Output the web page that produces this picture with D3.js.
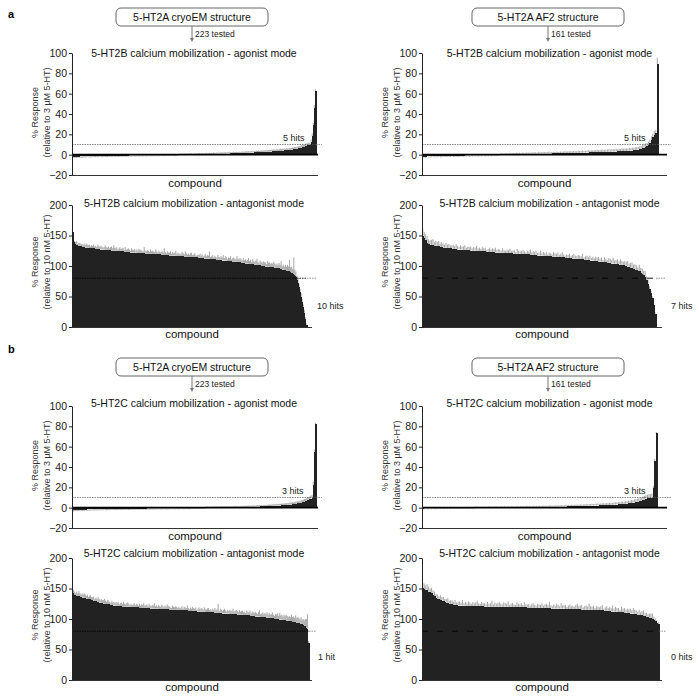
<!DOCTYPE html>
<html><head><meta charset="utf-8">
<script src="https://cdn.jsdelivr.net/npm/d3@7"></script>
<style>body{margin:0;background:#fff}svg{display:block}text{font-family:"Liberation Sans",Arial,sans-serif}</style>
</head><body><svg id="c" width="699" height="700"></svg>
<script>
// ---------- DATA ----------
const sectionLabels = ["a", "b"];
const structureNames = ["5-HT2A cryoEM structure", "5-HT2A AF2 structure"];
const testedLabels = ["223 tested", "161 tested"];
const chartTitles = ["5-HT2B calcium mobilization - agonist mode", "5-HT2B calcium mobilization - antagonist mode",
                     "5-HT2C calcium mobilization - agonist mode", "5-HT2C calcium mobilization - antagonist mode"];
const yLabelAgonist = ["% Response", "(relative to 3 µM 5-HT)"];
const yLabelAntagonist = ["% Response", "(relative to 10 nM 5-HT)"];
const xLabel = "compound";
const agonistTicks = [-20, 0, 20, 40, 60, 80, 100];
const antagonistTicks = [0, 50, 100, 150, 200];
const agonistThreshold = 10, antagonistThreshold = 80;
const hitLabels = ["5 hits", "5 hits", "10 hits", "7 hits", "3 hits", "3 hits", "1 hit", "0 hits"];

// 5-HT2B agonist, cryoEM set (223)
const b2AgoCryo = [
-2.4,-2.2,-2.1,-2.0,-2.0,-1.9,-1.9,-1.8,-1.8,-1.8,-1.7,-1.7,-1.7,-1.6,-1.6,-1.6,-1.6,-1.5,-1.5,-1.5,
-1.5,-1.4,-1.4,-1.4,-1.4,-1.3,-1.3,-1.3,-1.3,-1.3,-1.2,-1.2,-1.2,-1.2,-1.2,-1.1,-1.1,-1.1,-1.1,-1.1,
-1.0,-1.0,-1.0,-1.0,-1.0,-1.0,-0.9,-0.9,-0.9,-0.9,-0.9,-0.9,-0.8,-0.8,-0.8,-0.8,-0.8,-0.8,-0.7,-0.7,
-0.7,-0.7,-0.7,-0.7,-0.6,-0.6,-0.6,-0.6,-0.6,-0.6,-0.5,-0.5,-0.5,-0.5,-0.5,-0.5,-0.4,-0.4,-0.4,-0.4,
-0.4,-0.4,-0.3,-0.3,-0.3,-0.3,-0.3,-0.3,-0.2,-0.2,-0.2,-0.2,-0.2,-0.1,-0.1,-0.1,-0.1,-0.1,0.0,0.0,
0.0,0.0,0.0,0.1,0.1,0.1,0.1,0.1,0.2,0.2,0.2,0.2,0.2,0.3,0.3,0.3,0.3,0.4,0.4,0.4,
0.4,0.5,0.5,0.5,0.5,0.6,0.6,0.6,0.6,0.7,0.7,0.7,0.8,0.8,0.8,0.9,0.9,0.9,1.0,1.0,
1.0,1.1,1.1,1.1,1.2,1.2,1.2,1.3,1.3,1.4,1.4,1.4,1.5,1.5,1.6,1.6,1.7,1.7,1.8,1.8,
1.9,1.9,2.0,2.0,2.1,2.1,2.2,2.2,2.3,2.3,2.4,2.4,2.5,2.5,2.6,2.7,2.7,2.8,2.9,2.9,
3.0,3.1,3.1,3.2,3.3,3.3,3.4,3.5,3.6,3.6,3.7,3.8,3.9,4.0,4.1,4.2,4.3,4.4,4.5,4.6,
4.8,4.9,5.1,5.3,5.5,5.7,5.9,6.2,6.5,6.8,7.1,7.5,7.9,8.3,8.8,9.2,9.5,9.8,12.5,18,29,46,63];
const b2AgoCryoErr = [
1.2,0.8,1.0,0.9,1.3,0.7,1.1,0.9,1.0,1.4,0.8,0.9,1.2,1.0,0.7,1.1,0.9,1.3,0.8,1.0,
0.9,1.1,0.8,1.2,1.0,0.7,0.9,1.3,1.0,0.8,1.1,0.9,1.2,0.8,1.0,0.9,1.4,0.7,1.0,1.1,
0.8,1.0,1.2,0.9,0.7,1.1,1.0,0.8,1.3,0.9,1.0,0.8,1.1,0.9,1.2,0.7,1.0,0.9,1.1,0.8,
1.0,1.2,0.8,0.9,1.1,1.0,0.7,1.3,0.9,1.0,0.8,1.1,1.0,0.9,1.2,0.8,1.0,1.1,0.9,1.3,
0.9,1.0,0.8,1.2,1.0,0.9,1.1,0.7,1.0,1.2,0.8,1.0,0.9,1.1,1.3,0.8,1.0,0.9,1.2,1.0,
1.1,0.9,1.3,1.0,0.8,1.2,1.0,0.9,1.4,1.1,0.8,1.0,1.2,0.9,1.1,1.0,1.3,0.9,1.2,1.0,
1.2,1.0,1.4,0.9,1.1,1.3,1.0,1.2,0.9,1.5,1.1,1.0,1.3,1.2,0.9,1.4,1.1,1.2,1.0,1.3,
1.4,1.1,1.2,1.5,1.0,1.3,1.2,1.6,1.1,1.3,1.4,1.2,1.5,1.1,1.3,1.6,1.2,1.4,1.3,1.5,
1.3,1.6,1.2,1.4,1.7,1.3,1.5,1.2,1.6,1.4,1.8,1.3,1.5,1.7,1.4,1.6,1.5,1.9,1.4,1.6,
1.7,1.5,1.8,1.6,2.0,1.5,1.7,1.9,1.6,1.8,2.1,1.7,1.9,1.6,2.0,1.8,2.2,1.7,1.9,2.0,
1.8,2.1,1.9,2.2,2.0,1.8,2.3,2.1,1.9,2.4,2.0,2.2,1.8,2.5,2.1,1.9,2.3,2.0,2.4,3.0,2.2,2.8,1.2];

// 5-HT2B agonist, AF2 set (161)
const b2AgoAF2 = [
-2.3,-2.0,-1.9,-1.8,-1.7,-1.7,-1.6,-1.6,-1.5,-1.5,-1.5,-1.4,-1.4,-1.4,-1.3,-1.3,-1.3,-1.2,-1.2,-1.2,
-1.1,-1.1,-1.1,-1.0,-1.0,-1.0,-0.9,-0.9,-0.9,-0.8,-0.8,-0.8,-0.7,-0.7,-0.7,-0.6,-0.6,-0.6,-0.5,-0.5,
-0.5,-0.4,-0.4,-0.4,-0.3,-0.3,-0.3,-0.2,-0.2,-0.2,-0.1,-0.1,-0.1,0.0,0.0,0.0,0.1,0.1,0.1,0.2,
0.2,0.2,0.3,0.3,0.3,0.4,0.4,0.4,0.5,0.5,0.5,0.6,0.6,0.6,0.7,0.7,0.7,0.8,0.8,0.8,
0.9,0.9,0.9,1.0,1.0,1.0,1.1,1.1,1.1,1.2,1.2,1.2,1.3,1.3,1.3,1.4,1.4,1.4,1.5,1.5,
1.5,1.6,1.6,1.7,1.7,1.7,1.8,1.8,1.9,1.9,2.0,2.0,2.1,2.1,2.2,2.2,2.3,2.3,2.4,2.4,
2.5,2.5,2.6,2.6,2.7,2.7,2.8,2.8,2.9,3.0,3.0,3.1,3.1,3.2,3.3,3.3,3.4,3.5,3.5,3.6,
3.7,3.8,3.9,4.0,4.2,4.4,4.6,4.9,5.2,5.6,6.1,6.8,7.6,8.5,9.3,11,14,17,19,21,89];
const b2AgoAF2Err = [
1.1,0.9,1.2,0.8,1.0,1.3,0.9,1.1,0.8,1.2,1.0,0.9,1.1,1.3,0.8,1.0,1.2,0.9,1.1,1.0,
0.8,1.2,1.0,0.9,1.3,1.1,0.8,1.0,1.2,0.9,1.1,1.0,1.4,0.9,1.0,1.2,0.8,1.1,1.3,1.0,
1.2,0.9,1.1,1.3,1.0,1.2,0.9,1.4,1.1,1.0,1.3,1.2,0.9,1.1,1.4,1.0,1.2,1.3,1.1,1.5,
1.2,1.4,1.1,1.3,1.6,1.2,1.4,1.1,1.5,1.3,1.2,1.6,1.4,1.3,1.5,1.2,1.7,1.4,1.3,1.6,
1.5,1.3,1.7,1.4,1.6,1.5,1.8,1.3,1.6,1.7,1.4,1.9,1.5,1.6,1.8,1.5,1.7,2.0,1.6,1.8,
1.7,1.9,1.6,2.0,1.8,1.7,2.1,1.9,1.8,2.2,1.7,2.0,1.9,2.3,1.8,2.1,2.0,2.2,1.9,2.4,
2.0,2.2,2.1,2.5,1.9,2.3,2.2,2.6,2.0,2.4,2.3,2.1,2.7,2.2,2.5,2.4,2.8,2.3,2.6,2.5,
2.4,2.7,2.5,2.9,2.6,2.8,3.0,2.7,3.1,2.9,3.2,3.0,3.4,3.1,3.5,3.8,4.0,3.6,4.2,3.5,6.5];

// 5-HT2B antagonist, cryoEM set (223)
const b2AntCryo = [
155,140,136,135,134,133,133,132,132,131,131,131,130,130,130,130,129,129,129,129,
129,128,128,128,128,128,127,127,127,127,127,126,126,126,126,126,126,125,125,125,
125,125,125,124,124,124,124,124,124,123,123,123,123,123,123,122,122,122,122,122,
122,122,121,121,121,121,121,121,121,120,120,120,120,120,120,120,119,119,119,119,
119,119,119,119,118,118,118,118,118,118,118,118,117,117,117,117,117,117,117,116,
116,116,116,116,116,116,115,115,115,115,115,115,115,114,114,114,114,114,114,113,
113,113,113,113,113,112,112,112,112,112,112,111,111,111,111,111,110,110,110,110,
110,110,109,109,109,109,109,108,108,108,108,107,107,107,107,107,106,106,106,106,
105,105,105,105,104,104,104,104,103,103,103,103,102,102,102,101,101,101,101,100,
100,100,100,99,99,99,99,98,98,98,98,97,97,97,96,96,96,95,95,94,
94,93,93,92,92,91,90,89,88,87,86,84,82,77,72,65,57,49,41,33,23,13,4];
const b2AntCryoErr = [
4,6,5,4,7,3,5,6,4,5,3,6,4,7,5,4,6,3,5,4,
6,4,5,3,7,5,4,6,5,3,4,8,5,4,6,3,5,7,4,9,
5,4,6,3,5,7,4,5,6,3,8,4,5,6,4,3,7,5,4,6,
3,5,4,7,5,6,4,3,10,5,4,6,5,3,7,4,6,5,4,8,
5,3,6,4,5,7,4,11,5,3,6,4,5,7,3,6,4,5,8,4,
6,4,5,3,7,5,4,9,6,4,5,3,6,8,4,5,7,4,3,6,
5,7,4,6,3,5,8,4,6,5,12,4,5,7,3,6,5,4,8,5,
4,6,5,9,4,7,5,3,6,5,8,4,6,7,5,4,10,6,5,7,
6,4,8,5,7,4,6,9,5,7,4,8,6,5,7,11,6,4,8,7,
5,8,6,7,4,9,6,8,5,7,6,10,7,5,8,6,9,7,13,6,
8,6,9,7,10,8,20,9,11,8,28,10,9,7,8,6,5,6,5,4,5,3,2];

// 5-HT2B antagonist, AF2 set (161)
const b2AntAF2 = [
150,146,143,138,136,135,134,134,133,133,132,132,131,131,130,130,130,129,129,129,
128,128,128,128,127,127,127,127,126,126,126,126,126,125,125,125,125,125,124,124,
124,124,124,124,123,123,123,123,123,123,122,122,122,122,122,122,121,121,121,121,
121,121,120,120,120,120,120,120,119,119,119,119,119,119,118,118,118,118,118,117,
117,117,117,117,116,116,116,116,116,115,115,115,115,115,114,114,114,114,113,113,
113,113,113,112,112,112,112,111,111,111,111,110,110,110,110,109,109,109,108,108,
108,107,107,107,106,106,106,105,105,105,104,104,104,103,103,102,102,101,101,100,
100,99,98,97,96,95,94,93,92,91,89,87,85,82,77,70,62,55,47,36,22];
const b2AntAF2Err = [
12,10,9,11,8,7,9,10,6,8,7,9,6,8,7,5,8,6,7,5,
6,7,5,8,6,4,7,5,6,8,4,6,5,7,4,6,5,8,5,6,
4,7,5,6,3,5,7,4,6,5,8,4,6,5,3,7,5,4,6,5,
7,4,5,6,3,8,5,4,6,7,5,3,6,5,9,4,6,5,7,4,
5,8,4,6,5,7,3,6,5,4,8,6,5,7,4,6,9,5,4,6,
5,7,4,6,8,5,4,7,6,5,9,4,6,7,5,8,4,6,5,7,
6,8,5,7,4,9,6,5,8,7,6,10,5,7,8,6,9,7,6,8,
7,9,6,8,10,7,9,8,6,11,8,9,7,10,6,8,5,4,3,3,2];

// 5-HT2C agonist, cryoEM set (223)
const c2AgoCryo = [
-2.6,-2.4,-2.3,-2.2,-2.2,-2.1,-2.1,-2.0,-2.0,-2.0,-1.9,-1.9,-1.9,-1.8,-1.8,-1.8,-1.8,-1.7,-1.7,-1.7,
-1.7,-1.6,-1.6,-1.6,-1.6,-1.6,-1.5,-1.5,-1.5,-1.5,-1.5,-1.4,-1.4,-1.4,-1.4,-1.4,-1.3,-1.3,-1.3,-1.3,
-1.3,-1.3,-1.2,-1.2,-1.2,-1.2,-1.2,-1.2,-1.1,-1.1,-1.1,-1.1,-1.1,-1.1,-1.0,-1.0,-1.0,-1.0,-1.0,-1.0,
-1.0,-0.9,-0.9,-0.9,-0.9,-0.9,-0.9,-0.9,-0.8,-0.8,-0.8,-0.8,-0.8,-0.8,-0.8,-0.7,-0.7,-0.7,-0.7,-0.7,
-0.7,-0.7,-0.6,-0.6,-0.6,-0.6,-0.6,-0.6,-0.6,-0.5,-0.5,-0.5,-0.5,-0.5,-0.5,-0.5,-0.4,-0.4,-0.4,-0.4,
-0.4,-0.4,-0.4,-0.3,-0.3,-0.3,-0.3,-0.3,-0.3,-0.3,-0.2,-0.2,-0.2,-0.2,-0.2,-0.2,-0.1,-0.1,-0.1,-0.1,
-0.1,-0.1,0.0,0.0,0.0,0.0,0.0,0.0,0.1,0.1,0.1,0.1,0.1,0.1,0.2,0.2,0.2,0.2,0.2,0.3,
0.3,0.3,0.3,0.3,0.4,0.4,0.4,0.4,0.4,0.5,0.5,0.5,0.5,0.6,0.6,0.6,0.6,0.7,0.7,0.7,
0.7,0.8,0.8,0.8,0.9,0.9,0.9,1.0,1.0,1.0,1.1,1.1,1.2,1.2,1.2,1.3,1.3,1.4,1.4,1.5,
1.5,1.6,1.6,1.7,1.7,1.8,1.9,1.9,2.0,2.1,2.1,2.2,2.3,2.4,2.5,2.6,2.7,2.8,2.9,3.0,
3.1,3.2,3.4,3.5,3.7,3.9,4.1,4.3,4.6,4.9,5.2,5.5,5.9,6.3,6.8,7.3,7.9,8.5,9.0,9.6,22,55,82];
const c2AgoCryoErr = [
1.0,1.3,0.8,1.1,0.9,1.2,1.0,0.7,1.1,1.3,0.9,1.0,0.8,1.2,1.1,0.9,1.3,1.0,0.8,1.1,
1.2,0.9,1.0,1.3,0.8,1.1,0.9,1.2,1.0,0.7,1.1,1.3,0.9,1.0,1.2,0.8,1.1,0.9,1.0,1.2,
0.9,1.1,0.8,1.0,1.2,0.9,1.3,1.0,0.8,1.1,0.9,1.2,1.0,0.7,1.1,1.0,0.9,1.2,0.8,1.0,
1.1,0.9,1.2,0.8,1.0,1.1,0.9,1.3,1.0,0.8,1.2,0.9,1.0,1.1,0.8,1.2,1.0,0.9,1.1,0.8,
1.0,1.2,0.9,1.1,0.8,1.0,1.3,0.9,1.1,1.0,0.8,1.2,0.9,1.0,1.1,0.7,1.0,1.2,0.9,1.1,
0.9,1.0,1.2,0.8,1.1,0.9,1.0,1.3,0.8,1.0,1.1,0.9,1.2,1.0,0.8,1.1,0.9,1.0,1.2,0.9,
1.0,0.8,1.1,1.0,0.9,1.2,0.8,1.0,1.1,0.9,1.0,1.2,0.9,1.1,0.8,1.0,1.3,0.9,1.0,1.1,
0.9,1.1,1.0,1.2,0.8,1.0,1.1,0.9,1.3,1.0,1.2,0.9,1.1,1.0,1.2,0.9,1.3,1.1,1.0,1.2,
1.1,1.3,1.0,1.2,1.4,1.1,1.3,1.0,1.2,1.5,1.1,1.3,1.2,1.4,1.1,1.6,1.2,1.4,1.3,1.5,
1.4,1.6,1.3,1.5,1.7,1.4,1.6,1.8,1.5,1.7,1.6,1.9,1.5,1.8,1.7,2.0,1.6,1.9,1.8,2.1,
1.9,2.2,1.8,2.0,2.3,2.1,2.4,1.9,2.2,2.5,2.1,2.3,2.6,2.2,2.4,2.8,2.5,2.7,3.0,2.6,3.2,2.0,1.5];

// 5-HT2C agonist, AF2 set (161)
const c2AgoAF2 = [
-0.9,-0.8,-0.7,-0.7,-0.6,-0.6,-0.6,-0.5,-0.5,-0.5,-0.5,-0.4,-0.4,-0.4,-0.4,-0.4,-0.3,-0.3,-0.3,-0.3,
-0.3,-0.3,-0.2,-0.2,-0.2,-0.2,-0.2,-0.2,-0.2,-0.1,-0.1,-0.1,-0.1,-0.1,-0.1,-0.1,0.0,0.0,0.0,0.0,
0.0,0.0,0.0,0.0,0.1,0.1,0.1,0.1,0.1,0.1,0.1,0.1,0.2,0.2,0.2,0.2,0.2,0.2,0.2,0.3,
0.3,0.3,0.3,0.3,0.3,0.3,0.4,0.4,0.4,0.4,0.4,0.4,0.5,0.5,0.5,0.5,0.5,0.6,0.6,0.6,
0.6,0.6,0.7,0.7,0.7,0.7,0.8,0.8,0.8,0.8,0.9,0.9,0.9,1.0,1.0,1.0,1.1,1.1,1.1,1.2,
1.2,1.2,1.3,1.3,1.4,1.4,1.4,1.5,1.5,1.6,1.6,1.7,1.7,1.8,1.8,1.9,1.9,2.0,2.0,2.1,
2.1,2.2,2.2,2.3,2.4,2.4,2.5,2.6,2.6,2.7,2.8,2.9,3.0,3.1,3.2,3.3,3.4,3.5,3.6,3.8,
3.9,4.1,4.3,4.5,4.7,5.0,5.3,5.6,6.0,6.4,6.9,7.4,8.0,8.6,9.1,9.4,9.6,9.8,19,46,73];
const c2AgoAF2Err = [
0.8,1.0,0.7,0.9,1.1,0.8,1.0,0.7,0.9,1.2,0.8,1.0,0.9,0.7,1.1,0.8,1.0,0.9,0.7,1.0,
0.9,0.7,1.1,0.8,1.0,0.9,1.2,0.8,0.7,1.0,0.9,1.1,0.8,1.0,0.7,0.9,1.2,0.8,1.0,0.9,
1.0,0.8,1.1,0.9,0.7,1.2,0.9,1.0,0.8,1.1,0.9,1.3,0.8,1.0,1.1,0.9,1.2,0.8,1.0,1.1,
0.9,1.2,1.0,0.8,1.1,1.3,0.9,1.0,1.2,0.9,1.1,1.4,1.0,1.2,0.9,1.1,1.3,1.0,1.2,1.1,
1.3,1.0,1.2,1.4,1.1,1.3,1.0,1.5,1.2,1.1,1.4,1.2,1.6,1.1,1.3,1.5,1.2,1.4,1.7,1.3,
1.5,1.2,1.6,1.4,1.3,1.7,1.5,1.4,1.8,1.3,1.6,1.5,1.9,1.4,1.7,1.6,2.0,1.5,1.8,1.7,
1.9,1.6,2.0,1.8,2.2,1.7,2.1,1.9,2.3,2.0,1.8,2.4,2.1,2.2,2.5,2.0,2.6,2.3,2.4,2.7,
2.5,2.8,2.6,3.0,2.7,3.2,2.9,3.3,3.0,3.5,3.1,3.6,3.4,3.8,3.5,4.0,3.6,4.2,2.5,2.0,1.5];

// 5-HT2C antagonist, cryoEM set (223)
const c2AntCryo = [
143,140,139,138,138,137,137,136,136,135,135,134,134,133,133,132,132,131,131,130,
130,129,129,128,128,127,127,126,126,125,125,125,124,124,124,123,123,123,122,122,
122,122,121,121,121,121,121,120,120,120,120,120,120,120,119,119,119,119,119,119,
119,119,119,118,118,118,118,118,118,118,118,118,118,117,117,117,117,117,117,117,
117,117,116,116,116,116,116,116,116,116,116,115,115,115,115,115,115,115,115,115,
114,114,114,114,114,114,114,114,114,113,113,113,113,113,113,113,113,112,112,112,
112,112,112,112,112,111,111,111,111,111,111,111,111,110,110,110,110,110,110,110,
110,109,109,109,109,109,109,109,108,108,108,108,108,108,108,107,107,107,107,107,
107,106,106,106,106,106,106,105,105,105,105,105,104,104,104,104,104,103,103,103,
103,103,102,102,102,102,101,101,101,101,100,100,100,100,99,99,99,99,98,98,
98,97,97,97,96,96,96,95,95,95,94,94,93,93,92,92,91,90,89,88,86,84,60];
const c2AntCryoErr = [
5,8,6,4,7,5,9,6,4,7,5,8,6,5,7,4,6,8,5,6,
7,4,6,5,8,6,4,7,5,6,8,5,4,7,6,5,3,7,5,6,
4,6,5,7,3,5,6,4,8,5,4,6,7,5,3,6,4,5,7,4,
6,5,3,7,4,6,5,8,4,5,6,3,7,5,4,6,5,9,4,5,
3,6,5,4,7,5,3,6,4,8,5,6,4,3,7,5,4,6,5,3,
6,4,5,7,3,6,5,4,8,5,3,6,4,7,5,4,6,3,5,7,
4,6,5,3,7,5,4,6,7,4,5,3,6,5,8,4,6,15,3,7,
5,4,6,8,5,3,6,4,7,5,6,9,4,5,7,6,4,8,5,6,
7,5,6,4,8,6,5,9,4,7,6,5,8,6,4,7,10,5,6,8,
5,7,6,9,5,8,6,7,10,6,5,8,7,9,6,11,7,8,6,9,
7,10,8,6,9,7,11,8,9,7,12,8,10,9,7,11,8,10,9,12,14,24,4];

// 5-HT2C antagonist, AF2 set (161)
const c2AntAF2 = [
151,149,148,147,145,144,142,140,137,135,133,132,131,130,129,128,127,126,125,124,
124,123,123,123,122,122,122,122,122,122,121,121,121,121,121,121,121,121,121,121,
121,121,120,120,120,120,120,120,120,120,120,120,120,120,120,120,120,120,120,119,
119,119,119,119,119,119,119,119,119,119,119,118,118,118,118,118,118,118,118,118,
118,118,118,118,118,118,118,117,117,117,117,117,117,117,117,117,117,116,116,116,
116,116,116,116,116,116,116,116,115,115,115,115,115,115,115,115,114,114,114,114,
114,114,114,113,113,113,113,113,112,112,112,112,112,111,111,111,111,110,110,110,
110,109,109,109,108,108,107,107,106,106,105,105,104,103,102,101,100,98,96,94,92];
const c2AntAF2Err = [
8,9,7,10,8,6,9,7,8,6,7,5,8,6,7,5,6,8,5,7,
6,5,8,4,6,7,5,9,4,6,5,8,6,4,7,5,6,9,5,4,
7,5,6,4,8,5,6,10,4,7,5,6,8,5,4,7,6,5,9,4,
6,7,5,4,8,6,5,7,4,9,5,6,7,4,6,8,5,4,7,6,
5,8,4,6,7,5,10,6,4,7,5,8,6,4,9,5,6,7,4,6,
8,5,6,4,7,9,5,6,8,4,6,7,5,10,6,5,8,4,7,6,
5,7,9,4,6,8,5,7,6,10,5,8,6,7,4,9,6,8,5,7,
6,8,5,9,7,6,4,8,5,7,9,4,6,5,7,8,9,6,5,4,3];

// ---------- LAYOUT ----------
const svg = d3.select("#c");
const FONT = '"Liberation Sans", Arial, sans-serif';
const colX0 = [72, 422];
const plotOff = [0, 353], textOff = [0, 350];

const charts = [
  {sec:0,col:0,mode:"ago",title:chartTitles[0],v:b2AgoCryo,e:b2AgoCryoErr,barEnd:316,axisEnd:318,hit:[283,141],dash:"1.5,1"},
  {sec:0,col:1,mode:"ago",title:chartTitles[0],v:b2AgoAF2,e:b2AgoAF2Err,barEnd:658,axisEnd:667,hit:[624,141],dash:"1.5,1"},
  {sec:0,col:0,mode:"ant",title:chartTitles[1],v:b2AntCryo,e:b2AntCryoErr,barEnd:307,axisEnd:312,hit:[317,309],dash:"1.5,1"},
  {sec:0,col:1,mode:"ant",title:chartTitles[1],v:b2AntAF2,e:b2AntAF2Err,barEnd:656,axisEnd:662,hit:[671,309],dash:"6,9"},
  {sec:1,col:0,mode:"ago",title:chartTitles[2],v:c2AgoCryo,e:c2AgoCryoErr,barEnd:316,axisEnd:318,hit:[282,141],dash:"1.5,1"},
  {sec:1,col:1,mode:"ago",title:chartTitles[2],v:c2AgoAF2,e:c2AgoAF2Err,barEnd:657,axisEnd:667,hit:[624,141],dash:"1.5,1"},
  {sec:1,col:0,mode:"ant",title:chartTitles[3],v:c2AntCryo,e:c2AntCryoErr,barEnd:309,axisEnd:312,hit:[318,307],dash:"1.5,1"},
  {sec:1,col:1,mode:"ant",title:chartTitles[3],v:c2AntAF2,e:c2AntAF2Err,barEnd:659,axisEnd:662,hit:[671,307],dash:"6,9"}
];

charts.forEach((c, k) => {
  if (c.v.length !== c.e.length) throw new Error("length mismatch chart " + k + ": " + c.v.length + " vs " + c.e.length);
  const expected = c.col === 0 ? 223 : 161;
  if (c.v.length !== expected) throw new Error("count chart " + k + ": " + c.v.length);
});

// Section letters, structure boxes, arrows
sectionLabels.forEach((s, si) => {
  svg.append("text").attr("x", 8).attr("y", 18 + (si ? 335 : 0)).attr("font-size", 11).attr("font-weight", "bold")
    .attr("font-family", FONT).text(s);
  structureNames.forEach((name, ci) => {
    const cx = ci === 0 ? 192 : 548;
    const top = 8 + textOff[si];
    svg.append("rect").attr("x", cx - 76).attr("y", top).attr("width", 152).attr("height", 18)
      .attr("rx", 5).attr("fill", "#fff").attr("stroke", "#666").attr("stroke-width", 1);
    svg.append("text").attr("x", cx).attr("y", top + 12.8).attr("text-anchor", "middle")
      .attr("font-size", 10.5).attr("font-family", FONT).attr("fill", "#111").text(name);
    svg.append("line").attr("x1", cx).attr("x2", cx).attr("y1", top + 18).attr("y2", top + 31)
      .attr("stroke", "#777").attr("stroke-width", 1);
    svg.append("path").attr("d", `M${cx - 2},${top + 30}L${cx + 2},${top + 30}L${cx},${top + 34}Z`).attr("fill", "#777");
    svg.append("text").attr("x", cx + 3).attr("y", top + 29).attr("font-size", 8.5).attr("font-family", FONT)
      .attr("fill", "#222").text(testedLabels[ci]);
  });
});

charts.forEach((c, k) => {
  const x0 = colX0[c.col];
  const ago = c.mode === "ago";
  const dom = ago ? [-20, 100] : [0, 200];
  const yTop = (ago ? 53 : 205) + plotOff[c.sec];
  const yBot = (ago ? 175 : 327) + plotOff[c.sec];
  const y = d3.scaleLinear().domain(dom).range([yBot, yTop]);
  const x = d3.scaleBand().domain(d3.range(c.v.length)).range([x0, c.barEnd]).padding(0);
  const bw = x.bandwidth();
  const g = svg.append("g");

  // error bars
  g.append("g").selectAll("line").data(c.v).join("line")
    .attr("x1", (d, i) => x(i) + bw * 0.5).attr("x2", (d, i) => x(i) + bw * 0.5)
    .attr("y1", d => y(d)).attr("y2", (d, i) => y(d + (d < 0 ? -1 : 1) * c.e[i]))
    .attr("stroke", "#8f8f8f").attr("stroke-width", 0.8);
  // bars (crisp, slightly overlapping so the dense series reads as a solid mass)
  g.append("g").attr("shape-rendering", "crispEdges").selectAll("rect").data(c.v).join("rect")
    .attr("x", (d, i) => x(i)).attr("width", bw + 0.5)
    .attr("y", d => Math.min(y(d), y(0))).attr("height", d => Math.abs(y(d) - y(0)))
    .attr("fill", "#222");

  // threshold line
  const th = ago ? agonistThreshold : antagonistThreshold;
  g.append("line").attr("x1", x0).attr("x2", c.barEnd).attr("y1", y(th)).attr("y2", y(th))
    .attr("stroke", ago ? "#555" : "#000").attr("stroke-width", ago ? 0.7 : 0.9).attr("stroke-dasharray", c.dash);
  g.append("line").attr("x1", c.barEnd).attr("x2", c.axisEnd + 4).attr("y1", y(th)).attr("y2", y(th))
    .attr("stroke", "#666").attr("stroke-width", 0.7).attr("stroke-dasharray", "1.5,1");

  // zero line for agonist
  if (ago) {
    g.append("line").attr("x1", x0).attr("x2", c.axisEnd).attr("y1", y(0)).attr("y2", y(0))
      .attr("stroke", "#000").attr("stroke-width", 1.6);
  }
  // bottom axis line
  g.append("line").attr("x1", x0).attr("x2", c.axisEnd).attr("y1", yBot + 0.5).attr("y2", yBot + 0.5)
    .attr("stroke", "#333").attr("stroke-width", 1);

  // y axis
  const ya = g.append("g").attr("transform", `translate(${x0},0)`)
    .call(d3.axisLeft(y).tickValues(ago ? agonistTicks : antagonistTicks).tickSize(3).tickSizeOuter(0).tickPadding(2));
  ya.select(".domain").attr("stroke", "#222");
  ya.selectAll(".tick line").attr("stroke", "#222");
  ya.selectAll(".tick text").attr("font-size", 10.5).attr("font-family", FONT).attr("fill", "#1a1a1a");

  // y label
  const lbl = ago ? yLabelAgonist : yLabelAntagonist;
  const lcy = ago ? 112.5 + plotOff[c.sec] : 262 + plotOff[c.sec];
  lbl.forEach((t, li) => {
    const lx = x0 - 37 + li * 11.5;
    g.append("text").attr("transform", `translate(${lx},${lcy}) rotate(-90)`).attr("text-anchor", "middle")
      .attr("dominant-baseline", "central").attr("font-size", 9).attr("font-family", FONT).attr("fill", "#333").text(t);
  });

  // title
  const tcx = c.col === 0 ? 194 : 549.5;
  const ty = (ago ? 56.5 : 207) + textOff[c.sec];
  g.append("text").attr("x", tcx).attr("y", ty).attr("text-anchor", "middle").attr("font-size", 10.5)
    .attr("font-family", FONT).attr("fill", "#111").text(c.title);

  // x label
  g.append("text").attr("x", (x0 + c.axisEnd) / 2).attr("y", yBot + (ago ? 12 : 11)).attr("text-anchor", "middle")
    .attr("font-size", 11.5).attr("font-family", FONT).attr("fill", "#111").text(xLabel);

  // hits label
  g.append("text").attr("x", c.hit[0]).attr("y", c.hit[1] + plotOff[c.sec]).attr("font-size", 9)
    .attr("font-family", FONT).attr("fill", "#222").text(hitLabels[k]);
});
</script></body></html>
